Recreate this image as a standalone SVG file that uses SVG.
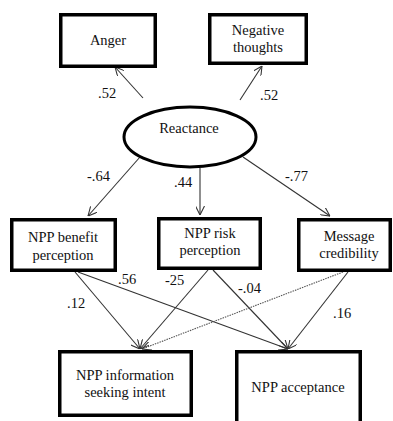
<svg xmlns="http://www.w3.org/2000/svg" width="393" height="421" viewBox="0 0 393 421">
<defs>
<marker id="arr" viewBox="0 0 10 10" refX="10" refY="5" markerWidth="9" markerHeight="9" markerUnits="userSpaceOnUse" orient="auto">
<path d="M0,0 L10,5 L0,10" fill="none" stroke="#333" stroke-width="1.2"/>
</marker>
<style>
.box{fill:#fff;stroke:#000;stroke-width:3.5}
.ell{fill:#fff;stroke:#000;stroke-width:3}
.lbl{font-family:'Liberation Serif','Times New Roman',Tinos,'DejaVu Serif',serif;font-size:14.5px;fill:#111}
.t{text-anchor:middle}
.c{fill:none;stroke:#333;stroke-width:1.1}
.d{fill:none;stroke:#555;stroke-width:1.1;stroke-dasharray:1.5 1}
</style>
</defs>
<rect width="393" height="421" fill="#fff"/>
<g id="connectors">
<line class="c" x1="143" y1="98" x2="115" y2="67" marker-end="url(#arr)"/>
<line class="c" x1="240" y1="100" x2="262" y2="66" marker-end="url(#arr)"/>
<line class="c" x1="140" y1="157" x2="88" y2="216" marker-end="url(#arr)"/>
<line class="c" x1="200" y1="168" x2="200" y2="215" marker-end="url(#arr)"/>
<line class="c" x1="243" y1="157" x2="330" y2="216" marker-end="url(#arr)"/>
<line class="c" x1="75" y1="272" x2="140" y2="349" marker-end="url(#arr)"/>
<line class="c" x1="78" y1="272" x2="288" y2="349" marker-end="url(#arr)"/>
<line class="c" x1="208" y1="270" x2="140" y2="349" marker-end="url(#arr)"/>
<line class="c" x1="213" y1="270" x2="288" y2="349" marker-end="url(#arr)"/>
<line class="d" x1="343" y1="272" x2="142" y2="349" marker-end="url(#arr)"/>
<line class="c" x1="348" y1="272" x2="288" y2="349" marker-end="url(#arr)"/>
<g class="lbl">
<text x="98" y="98">.52</text>
<text x="260" y="100">.52</text>
<text x="87" y="181">-.64</text>
<text x="174" y="187">.44</text>
<text x="285" y="181">-.77</text>
<text x="67" y="308">.12</text>
<text x="118" y="284">.56</text>
<text x="165" y="285">-25</text>
<text x="238" y="293">-.04</text>
<text x="333" y="318">.16</text>
</g>
</g>
<g id="anger" class="lbl">
<rect class="box" x="60.75" y="14.75" width="94.5" height="51.5"/>
<text class="t" x="108" y="45">Anger</text>
</g>
<g id="negative-thoughts" class="lbl">
<rect class="box" x="209.75" y="14.75" width="96.5" height="48.5"/>
<text class="t" x="258" y="35">Negative</text>
<text class="t" x="258" y="52">thoughts</text>
</g>
<g id="reactance" class="lbl">
<ellipse class="ell" cx="190" cy="137" rx="66" ry="30"/>
<text class="t" x="189" y="133">Reactance</text>
</g>
<g id="benefit" class="lbl">
<rect class="box" x="11.75" y="219.75" width="103.5" height="50.5"/>
<text class="t" x="63" y="242">NPP benefit</text>
<text class="t" x="63" y="260">perception</text>
</g>
<g id="risk" class="lbl">
<rect class="box" x="158.75" y="218.75" width="101.5" height="49.5"/>
<text class="t" x="210" y="238">NPP risk</text>
<text class="t" x="210" y="255">perception</text>
</g>
<g id="credibility" class="lbl">
<rect class="box" x="298.75" y="219.75" width="91.5" height="50.5"/>
<text class="t" x="349" y="241">Message</text>
<text class="t" x="349" y="258">credibility</text>
</g>
<g id="info-seeking" class="lbl">
<rect class="box" x="59.75" y="351.75" width="131.5" height="63.5"/>
<text class="t" x="125" y="380">NPP information</text>
<text class="t" x="125" y="397">seeking intent</text>
</g>
<g id="acceptance" class="lbl">
<rect class="box" x="236.75" y="351.75" width="123.5" height="90"/>
<text class="t" x="298" y="392">NPP acceptance</text>
</g>
</svg>
